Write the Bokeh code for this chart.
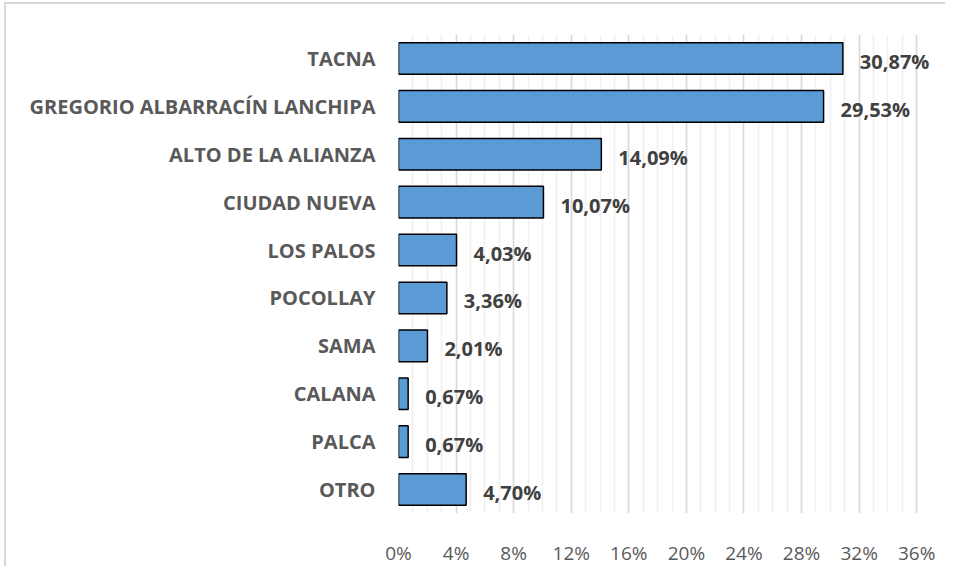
from bokeh.plotting import figure
from bokeh.models import ColumnDataSource, FactorRange, Range1d, FixedTicker
from bokeh.core.properties import value
from bokeh.embed import file_html
from bokeh.resources import INLINE

categories = ["TACNA", "GREGORIO ALBARRACÍN LANCHIPA", "ALTO DE LA ALIANZA",
              "CIUDAD NUEVA", "LOS PALOS", "POCOLLAY", "SAMA", "CALANA",
              "PALCA", "OTRO"]
values = [30.87, 29.53, 14.09, 10.07, 4.03, 3.36, 2.01, 0.67, 0.67, 4.70]
x_ticks = [0, 4, 8, 12, 16, 20, 24, 28, 32, 36]
x_tick_labels = ["0%", "4%", "8%", "12%", "16%", "20%", "24%", "28%", "32%", "36%"]

labels = [("%.2f%%" % v).replace(".", ",") for v in values]
src = ColumnDataSource(dict(cat=categories, val=values, lab=labels))

FONT = "Open Sans"

p = figure(width=941, height=564, output_backend="svg", toolbar_location=None,
           y_range=FactorRange(*reversed(categories), range_padding=0),
           x_range=Range1d(0, 38),
           min_border_left=392, min_border_right=2,
           min_border_top=30, min_border_bottom=48)
p.styles = {"margin-left": "4px", "margin-top": "2px",
            "border-left": "2px solid #d9d9d9", "border-top": "2px solid #d9d9d9"}
p.outline_line_color = None

p.hbar(y="cat", right="val", left=0, height=0.66, source=src,
       fill_color="#5B9BD5", line_color="#000000", line_width=1.5)

p.text(x="val", y="cat", text="lab", source=src, x_offset=17, y_offset=3,
       text_font=value(FONT), text_font_style="bold", text_font_size="20px",
       text_color="#404040", text_baseline="middle", text_align="left")

xa = p.xaxis[0]
xa.ticker = FixedTicker(ticks=x_ticks, minor_ticks=list(range(0, 37)))
xa.major_label_overrides = {t: l for t, l in zip(x_ticks, x_tick_labels)}
xa.axis_line_color = None
xa.major_tick_line_color = None
xa.minor_tick_line_color = None
xa.major_label_text_font = FONT
xa.major_label_text_font_size = "19px"
xa.major_label_text_color = "#595959"
xa.major_label_standoff = 20

ya = p.yaxis[0]
ya.axis_line_color = None
ya.major_tick_line_color = None
ya.minor_tick_line_color = None
ya.major_label_text_font = FONT
ya.major_label_text_font_style = "bold"
ya.major_label_text_font_size = "20px"
ya.major_label_text_color = "#595959"
ya.major_label_standoff = 17

p.ygrid.grid_line_color = None
p.xgrid.grid_line_color = "#d9d9d9"
p.xgrid.grid_line_width = 1.5
p.xgrid.minor_grid_line_color = "#efefef"
p.xgrid.minor_grid_line_width = 1.5

open("out.html", "w").write(file_html(p, INLINE))
